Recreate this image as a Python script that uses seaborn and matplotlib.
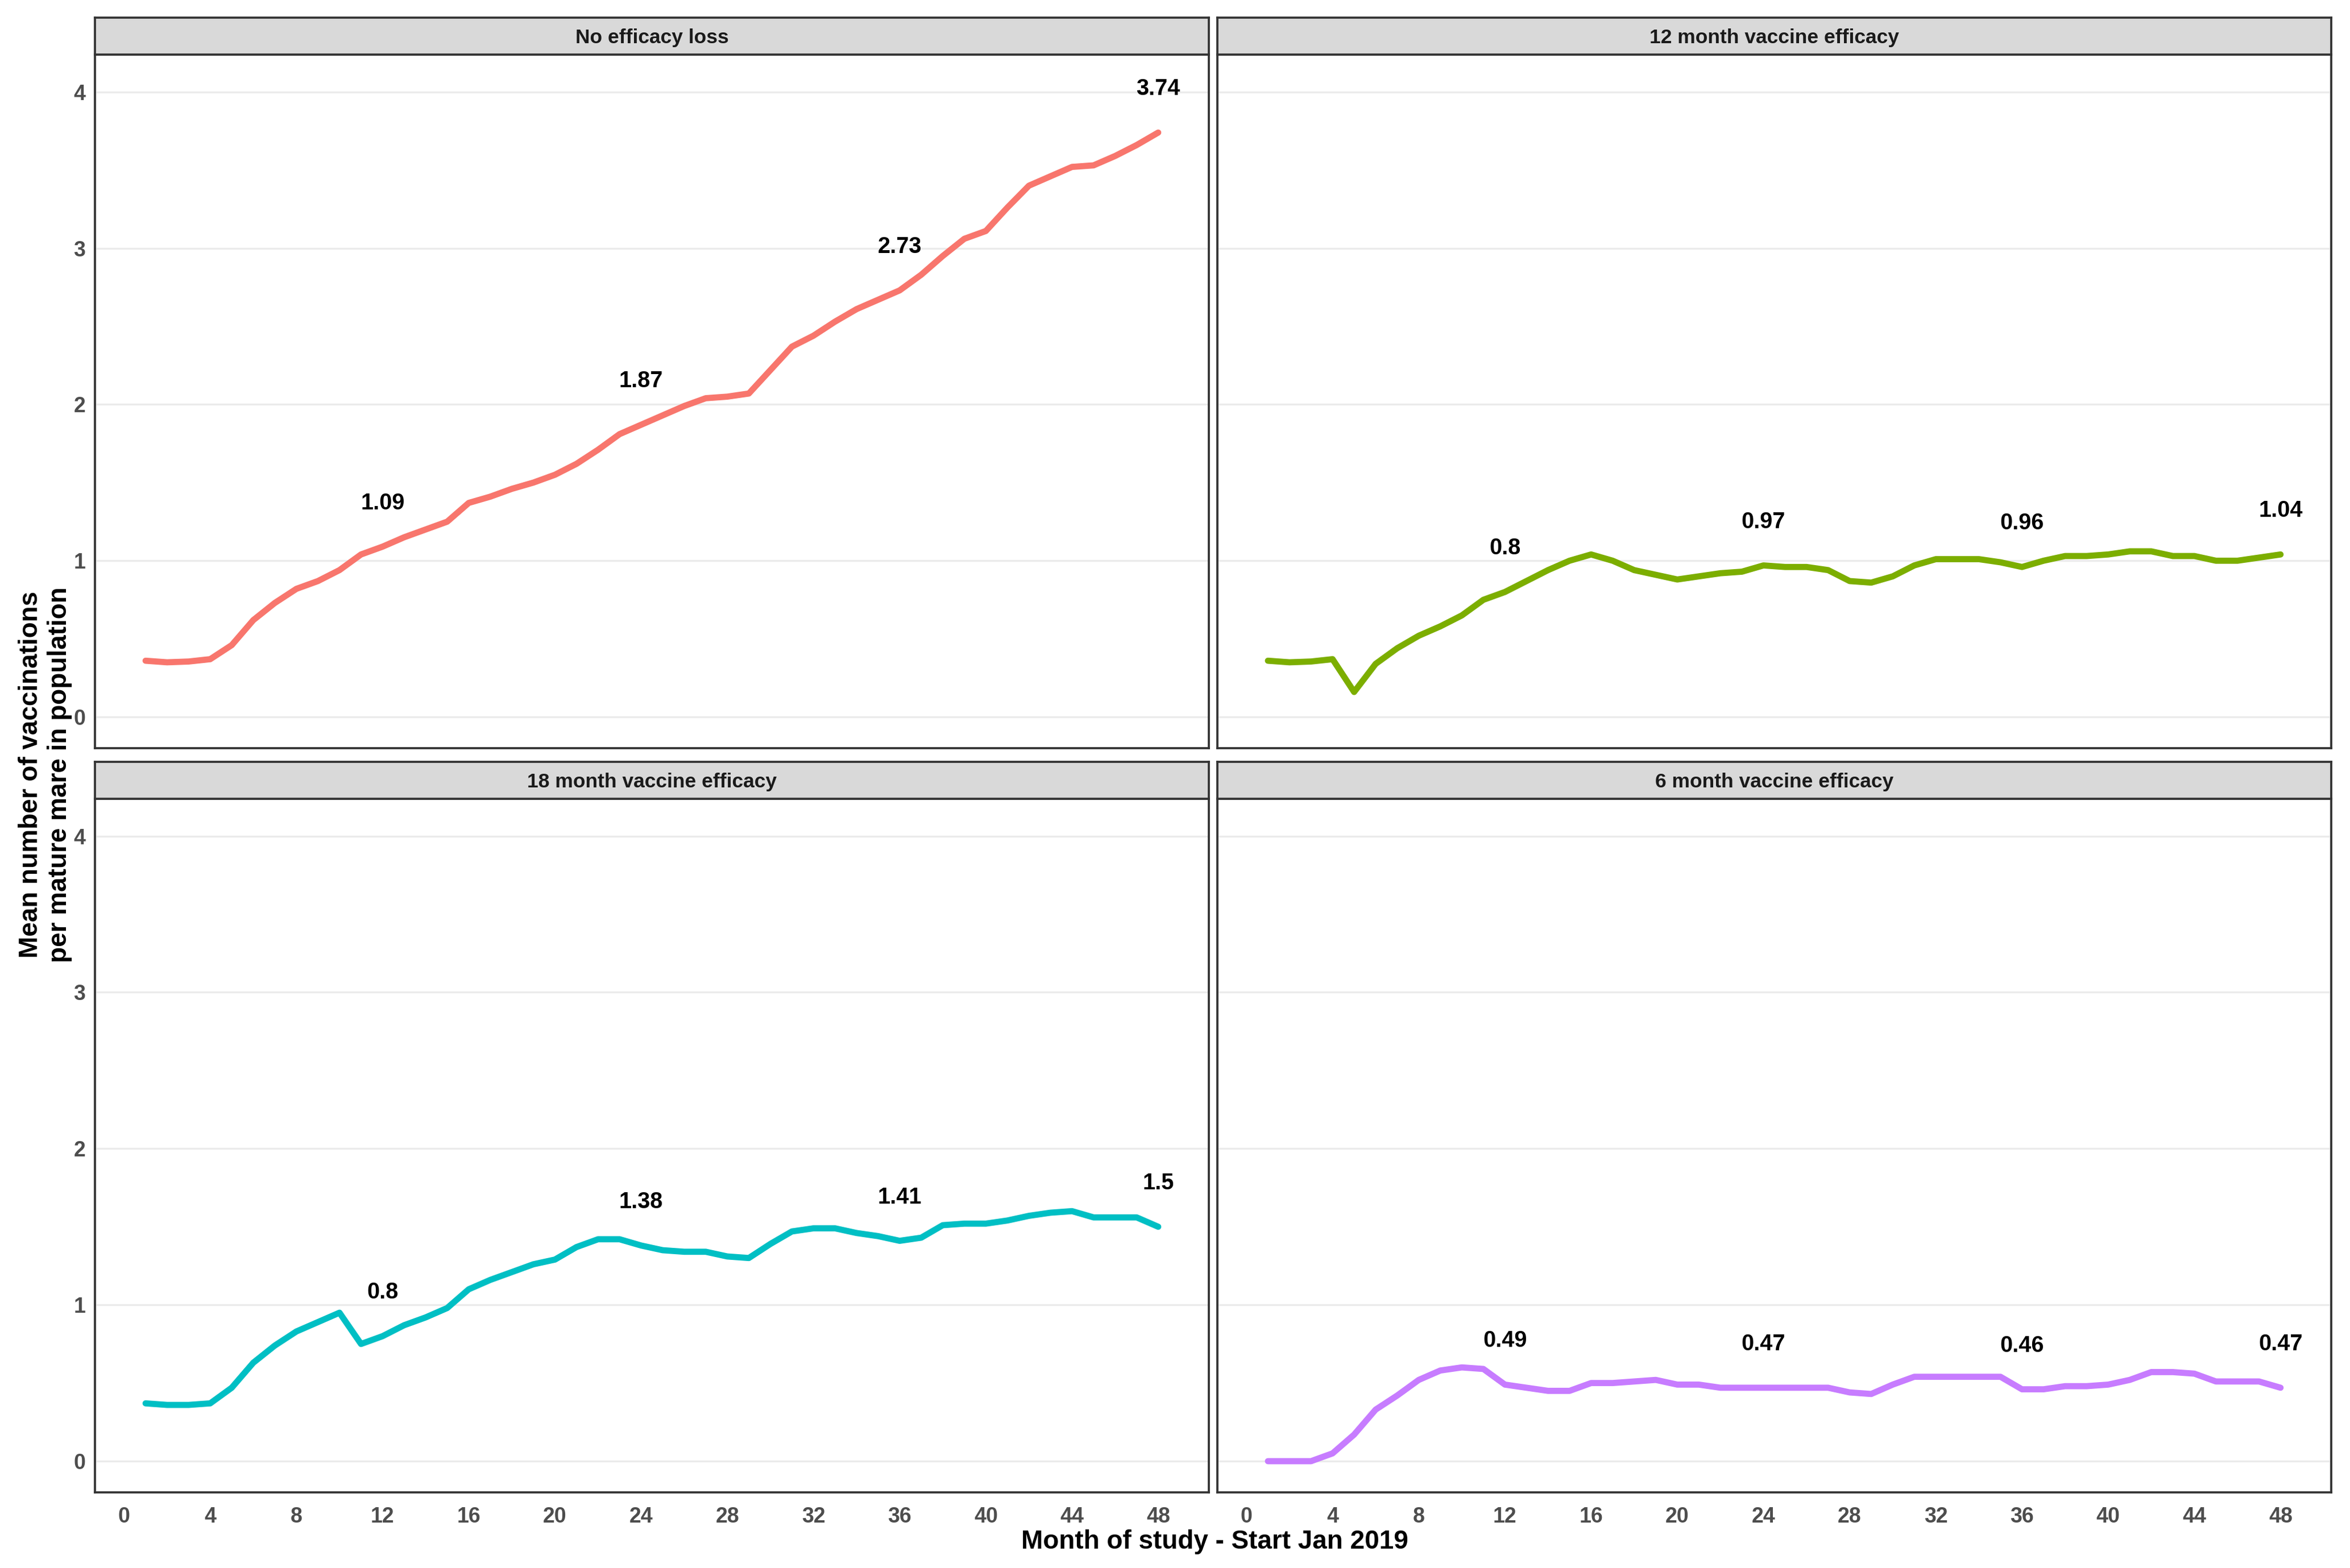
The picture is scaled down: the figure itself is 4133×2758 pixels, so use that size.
import numpy as np
import pandas as pd
import matplotlib.pyplot as plt
import seaborn as sns

# monthly mean vaccinations per mature mare, months 1..48
MONTHS = list(range(1, 49))

NO_LOSS = [0.36, 0.35, 0.355, 0.37, 0.46, 0.62, 0.73, 0.82, 0.87, 0.94, 1.04, 1.09,
           1.15, 1.20, 1.25, 1.37, 1.41, 1.46, 1.50, 1.55, 1.62, 1.71, 1.81, 1.87,
           1.93, 1.99, 2.04, 2.05, 2.07, 2.22, 2.37, 2.44, 2.53, 2.61, 2.67, 2.73,
           2.83, 2.95, 3.06, 3.11, 3.26, 3.40, 3.46, 3.52, 3.53, 3.59, 3.66, 3.74]

EFF_12 = [0.36, 0.35, 0.355, 0.37, 0.16, 0.34, 0.44, 0.52, 0.58, 0.65, 0.75, 0.80,
          0.87, 0.94, 1.00, 1.04, 1.00, 0.94, 0.91, 0.88, 0.90, 0.92, 0.93, 0.97,
          0.96, 0.96, 0.94, 0.87, 0.86, 0.90, 0.97, 1.01, 1.01, 1.01, 0.99, 0.96,
          1.00, 1.03, 1.03, 1.04, 1.06, 1.06, 1.03, 1.03, 1.00, 1.00, 1.02, 1.04]

EFF_18 = [0.37, 0.36, 0.36, 0.37, 0.47, 0.63, 0.74, 0.83, 0.89, 0.95, 0.75, 0.80,
          0.87, 0.92, 0.98, 1.10, 1.16, 1.21, 1.26, 1.29, 1.37, 1.42, 1.42, 1.38,
          1.35, 1.34, 1.34, 1.31, 1.30, 1.39, 1.47, 1.49, 1.49, 1.46, 1.44, 1.41,
          1.43, 1.51, 1.52, 1.52, 1.54, 1.57, 1.59, 1.60, 1.56, 1.56, 1.56, 1.50]

EFF_6 = [0.0, 0.0, 0.0, 0.05, 0.17, 0.33, 0.42, 0.52, 0.58, 0.60, 0.59, 0.49,
         0.47, 0.45, 0.45, 0.50, 0.50, 0.51, 0.52, 0.49, 0.49, 0.47, 0.47, 0.47,
         0.47, 0.47, 0.47, 0.44, 0.43, 0.49, 0.54, 0.54, 0.54, 0.54, 0.54, 0.46,
         0.46, 0.48, 0.48, 0.49, 0.52, 0.57, 0.57, 0.56, 0.51, 0.51, 0.51, 0.47]

SCENARIOS = ["No efficacy loss", "12 month vaccine efficacy",
             "18 month vaccine efficacy", "6 month vaccine efficacy"]
COLORS = ["#F8766D", "#7CAE00", "#00BFC4", "#C77CFF"]

LABEL_MONTHS = [12, 24, 36, 48]
LABELS = {
    "No efficacy loss": ["1.09", "1.87", "2.73", "3.74"],
    "12 month vaccine efficacy": ["0.8", "0.97", "0.96", "1.04"],
    "18 month vaccine efficacy": ["0.8", "1.38", "1.41", "1.5"],
    "6 month vaccine efficacy": ["0.49", "0.47", "0.46", "0.47"],
}

X_TICKS = list(range(0, 49, 4))
Y_TICKS = [0, 1, 2, 3, 4]

df = pd.DataFrame({
    "month": MONTHS * 4,
    "value": NO_LOSS + EFF_12 + EFF_18 + EFF_6,
    "scenario": np.repeat(SCENARIOS, len(MONTHS)),
})

sns.set_theme(style="white")
plt.rcParams["font.family"] = ["Liberation Sans Narrow", "Liberation Sans", "DejaVu Sans"]

fig = plt.figure(figsize=(4133 / 300, 2758 / 300), dpi=300)

# panel layout (figure fractions)
cols_x = [0.0404, 0.5180]
panel_w = 0.4740
rows_y = [0.5228, 0.0482]
panel_h = 0.4425
strip_h = 0.0235

for i, scen in enumerate(SCENARIOS):
    r, c = divmod(i, 2)
    x0, y0 = cols_x[c], rows_y[r]
    ax = fig.add_axes([x0, y0, panel_w, panel_h])
    sub = df[df["scenario"] == scen]
    sns.lineplot(data=sub, x="month", y="value", color=COLORS[i], linewidth=2.6, ax=ax)

    for m, lab in zip(LABEL_MONTHS, LABELS[scen]):
        ax.text(m, float(lab) + 0.28, lab, ha="center", va="center",
                fontsize=9.5, fontweight="bold", color="black")

    ax.set_xlim(-1.35, 50.35)
    ax.set_ylim(-0.2, 4.24)
    ax.set_xticks(X_TICKS)
    ax.set_yticks(Y_TICKS)
    ax.set_xlabel("")
    ax.set_ylabel("")
    ax.grid(axis="y", color="#EBEBEB", linewidth=0.8)
    ax.grid(axis="x", visible=False)
    ax.set_axisbelow(True)
    for sp in ax.spines.values():
        sp.set_color("#333333")
        sp.set_linewidth(0.9)
    ax.tick_params(length=0, labelsize=9, labelcolor="#4D4D4D")
    ax.tick_params(axis="x", pad=6)
    ax.tick_params(axis="y", pad=4)
    for t in ax.get_xticklabels() + ax.get_yticklabels():
        t.set_fontweight("bold")
    if r == 0:
        ax.set_xticklabels([])
    if c == 1:
        ax.set_yticklabels([])

    # facet strip
    sax = fig.add_axes([x0, y0 + panel_h, panel_w, strip_h])
    sax.set_facecolor("#D9D9D9")
    sax.set_xticks([])
    sax.set_yticks([])
    for sp in sax.spines.values():
        sp.set_color("#333333")
        sp.set_linewidth(0.9)
    sax.text(0.5, 0.45, scen, ha="center", va="center", fontsize=8.5,
             fontweight="bold", color="#1A1A1A", transform=sax.transAxes)

fig.text(0.517, 0.0165, "Month of study - Start Jan 2019", ha="center", va="center",
         fontsize=11, fontweight="bold", color="black")
fig.text(0.0192, 0.506, "Mean number of vaccinations\nper mature mare in population",
         rotation=90, ha="center", va="center", multialignment="center",
         fontsize=11, fontweight="bold", color="black")

fig.savefig("out.png", dpi=300)
